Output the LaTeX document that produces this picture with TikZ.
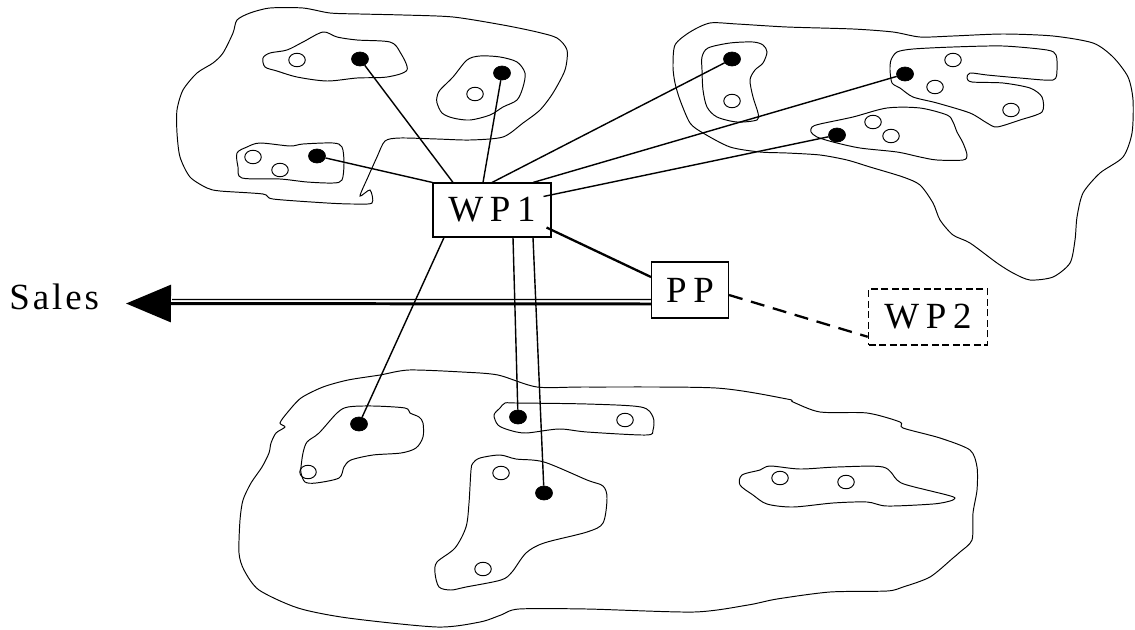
\documentclass[tikz,border=0pt]{standalone}
\usepackage{fontspec}
\usepackage{tikz}
\newfontfamily\labelfont[LetterSpace=18]{Liberation Serif}
\newfontfamily\flowfont[LetterSpace=8]{Liberation Serif}
\usetikzlibrary{arrows.meta,shapes.geometric}

\begin{document}
\begin{tikzpicture}[x=0.02cm,y=-0.02cm,
  region/.style={line width=0.55pt},
  box node/.style={rectangle,draw,fill=white,line width=0.6pt,inner sep=0pt,
    font=\labelfont\fontsize{21}{25}\selectfont},
  dot node/.style={ellipse,draw,fill=black,line width=0.4pt,inner sep=0pt,
    minimum width=0.34cm,minimum height=0.28cm},
  hole node/.style={ellipse,draw,line width=0.55pt,inner sep=0pt,
    minimum width=0.33cm,minimum height=0.27cm},
  link/.style={line width=0.8pt}]
  \useasboundingbox (0,0) rectangle (1135,629);

  % the three areas
  \draw[region] plot[smooth cycle,tension=0.45] coordinates {(237,20) (250,13) (270,8) (303,8)
    (330,13) (360,14) (403,15) (453,17) (503,25) (537,32) (557,38) (567,50) (565,70) (553,93)
    (540,110) (523,123) (503,137) (470,140) (437,139) (400,138) (385,141) (377,157) (368,177)
    (360,196) (370,190) (372,203) (353,204) (327,203) (273,199) (263,194) (220,191) (207,188)
    (190,177) (180,157) (177,133) (177,110) (183,90) (197,73) (213,63) (223,53) (233,33)};
  \draw[region] plot[smooth cycle,tension=0.45] coordinates {(675,45) (690,32) (710,23) (737,24)
    (787,27) (853,29) (893,32) (920,37) (953,36) (1003,34) (1053,36) (1093,43) (1113,57)
    (1128,77) (1133,100) (1132,133) (1123,157) (1100,173) (1083,193) (1077,217) (1075,240)
    (1070,263) (1053,277) (1030,280) (1013,273) (997,263) (970,243) (953,235) (940,220)
    (933,203) (920,185) (903,177) (870,167) (847,160) (820,155) (787,153) (760,152) (730,147)
    (703,133) (690,123) (680,100) (675,83) (673,67)};
  \draw[region] plot[smooth cycle,tension=0.45] coordinates {(409,370) (462,372) (498,375)
    (537,387) (587,387) (716,388) (787,399) (793,402) (820,412) (867,413) (900,422) (903,428)
    (940,438) (970,450) (977,467) (977,490) (973,513) (972,540) (960,552) (953,558) (930,577)
    (903,587) (887,591) (830,592) (777,599) (748,605) (694,612) (587,609) (519,609) (501,615)
    (480,622) (437,627) (348,618) (298,608) (259,590) (244,570) (239,553) (240,520) (243,500)
    (251,483) (262,467) (269,453) (271,443) (276,433) (285,427) (280,423) (287,413) (301,398)
    (323,387) (348,380) (380,375)};

  % groups inside the areas
  \draw[region] plot[smooth cycle,tension=0.5] coordinates {(263,58) (270,53) (287,50) (303,42)
    (323,32) (337,37) (357,40) (390,42) (400,52) (407,70) (387,77) (357,78) (327,81) (297,77)
    (277,71) (265,67)};
  \draw[region] plot[smooth cycle,tension=0.5] coordinates {(437,97) (440,90) (453,77) (467,60)
    (480,56) (500,57) (517,62) (525,73) (523,87) (517,100) (503,107) (490,115) (470,120)
    (453,118) (442,113) (437,103)};
  \draw[region] plot[smooth cycle,tension=0.5] coordinates {(237,153) (247,147) (260,143)
    (290,146) (303,144) (333,143) (342,147) (344,163) (342,180) (333,183) (307,182) (280,179)
    (242,178) (238,167)};
  \draw[region] plot[smooth cycle,tension=0.5] coordinates {(702,57) (708,48) (730,43) (753,42)
    (763,45) (767,52) (763,63) (755,70) (750,80) (753,97) (758,113) (757,120) (737,122)
    (717,117) (707,107) (703,90) (702,70)};
  \draw[region] plot[smooth cycle,tension=0.45] coordinates {(891,60) (897,52) (913,49) (953,47)
    (1003,46) (1047,50) (1056,55) (1057,70) (1053,80) (1020,78) (987,75) (970,73) (967,78)
    (972,82) (1003,83) (1030,88) (1042,97) (1042,112) (1020,120) (997,127) (987,123) (970,113)
    (937,103) (913,97) (900,88) (892,83) (890,70)};
  \draw[region] plot[smooth cycle,tension=0.5] coordinates {(812,127) (820,124) (853,117)
    (887,108) (920,108) (947,115) (953,122) (957,132) (963,143) (967,155) (963,160) (937,160)
    (920,157) (897,152) (860,148) (833,142) (817,137) (811,132)};
  \draw[region] plot[smooth cycle,tension=0.5] coordinates {(301,467) (303,453) (307,442)
    (319,433) (337,413) (348,407) (373,406) (405,408) (410,413) (419,417) (423,423) (423,437)
    (416,448) (401,453) (373,455) (351,460) (344,467) (339,478) (316,483) (305,482) (301,473)};
  \draw[region] plot[smooth cycle,tension=0.5] coordinates {(505,403) (516,403) (587,404)
    (641,407) (653,417) (653,430) (646,435) (587,432) (559,429) (526,433) (509,430) (498,425)
    (494,415) (500,408)};
  \draw[region] plot[smooth cycle,tension=0.5] coordinates {(473,463) (480,458) (500,455)
    (516,459) (544,462) (587,480) (603,486) (607,498) (603,523) (587,532) (544,543) (526,553)
    (512,572) (501,580) (466,587) (451,590) (439,587) (435,573) (437,562) (455,548) (466,527)
    (469,503) (471,470)};
  \draw[region] plot[smooth cycle,tension=0.5] coordinates {(742,475) (760,470) (770,466)
    (800,469) (837,467) (883,467) (897,480) (907,485) (947,495) (955,498) (950,501) (933,504)
    (887,506) (867,502) (833,503) (793,507) (767,504) (753,495) (740,485)};

  % open members
  \node[hole node] (h1)  at (297,60)  {};
  \node[hole node] (h2)  at (475,94)  {};
  \node[hole node] (h3)  at (253,157) {};
  \node[hole node] (h4)  at (280,170) {};
  \node[hole node] (h5)  at (732,101) {};
  \node[hole node] (h6)  at (953,60)  {};
  \node[hole node] (h7)  at (935,87)  {};
  \node[hole node] (h8)  at (1011,110) {};
  \node[hole node] (h9)  at (873,122) {};
  \node[hole node] (h10) at (891,136) {};
  \node[hole node] (h11) at (308,472) {};
  \node[hole node] (h12) at (625,420) {};
  \node[hole node] (h13) at (501,473) {};
  \node[hole node] (h14) at (483,569) {};
  \node[hole node] (h15) at (780,478) {};
  \node[hole node] (h16) at (846,482) {};

  % linked members
  \node[dot node] (1) at (360,59)  {};
  \node[dot node] (2) at (502,73)  {};
  \node[dot node] (3) at (317,156) {};
  \node[dot node] (4) at (732,59)  {};
  \node[dot node] (5) at (905,74)  {};
  \node[dot node] (6) at (837,135) {};
  \node[dot node] (7) at (359,424) {};
  \node[dot node] (8) at (518,417) {};
  \node[dot node] (9) at (544,493) {};

  \node[box node,minimum width=2.36cm,minimum height=1.08cm] (wp1) at (492,210) {WP1};
  \node[box node,minimum width=1.54cm,minimum height=1.12cm] (pp)  at (690,290) {PP};
  \node[box node,minimum width=2.38cm,minimum height=1.12cm,line width=0.9pt,
    dash pattern=on 4pt off 2pt] (wp2) at (928,317) {WP2};
  \node[font=\flowfont\fontsize{21}{25}\selectfont,inner sep=0pt,anchor=base west]
    (sales) at (9,309) {Sales};

  \coordinate (base) at (172,299.5);
  \coordinate (tip)  at (126,303.5);

  \path[link]
    (1) edge ([xshift=-0.78cm]wp1.north)
    (2) edge ([xshift=-0.18cm]wp1.north)
    (3) edge (wp1.north west)
    (4) edge (wp1.north)
    (5) edge ([xshift=0.82cm]wp1.north)
    (6) edge ([shift={(-0.16cm,-0.28cm)}]wp1.north east)
    (7) edge ([xshift=-0.96cm]wp1.south)
    (8) edge ([xshift=0.42cm]wp1.south)
    (9) edge ([xshift=0.82cm]wp1.south);

  \draw[line width=1.3pt] ([shift={(-0.1cm,0.2cm)}]wp1.south east) -- ([yshift=0.26cm]pp.west);
  \draw[line width=1.3pt,dash pattern=on 8pt off 5pt]
    ([yshift=-0.1cm]pp.east) -- ([yshift=0.18cm]wp2.south west);

  % sales flow
  \draw[line width=0.6pt] ([yshift=-0.19cm]pp.west) -- (base);
  \draw[line width=1.7pt,-{Triangle[length=0.9cm,width=0.74cm]}]
    ([yshift=-0.28cm]pp.west) -- (tip);
\end{tikzpicture}
\end{document}
